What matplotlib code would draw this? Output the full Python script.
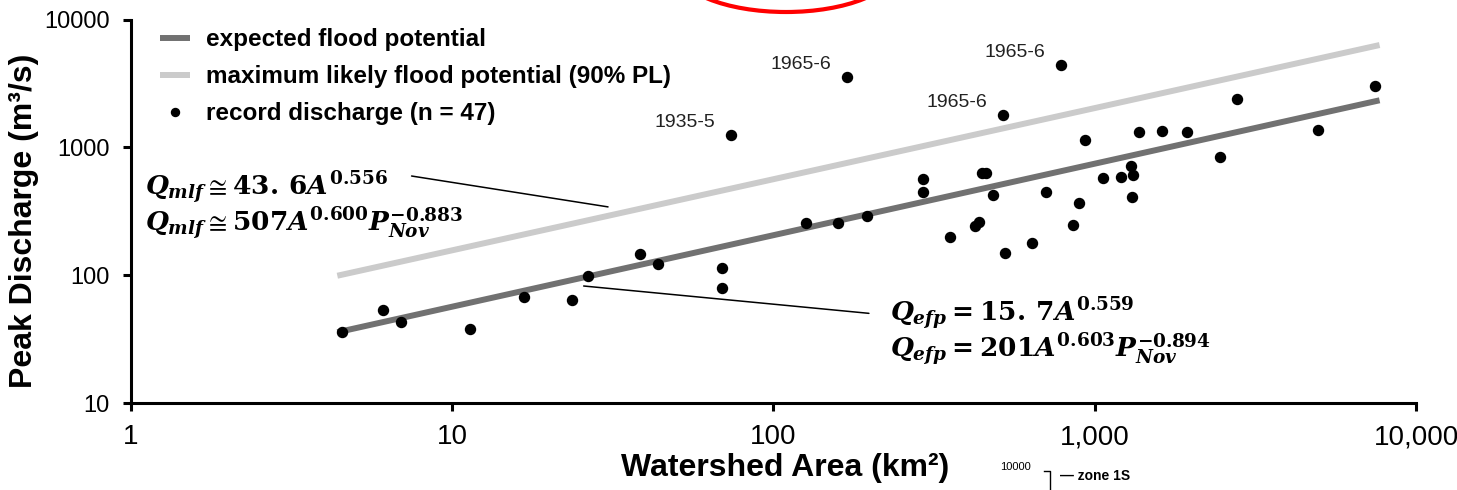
import matplotlib
matplotlib.use("Agg")
import matplotlib.pyplot as plt
import numpy as np
from matplotlib import ticker
from matplotlib.patches import Ellipse
from matplotlib.lines import Line2D

# record discharge per watershed (km2, m3/s)
area = [4.54, 6.09, 6.94, 11.4, 16.8, 23.6, 26.6, 38.5, 43.9, 69.2,
        69.2, 73.8, 126, 159, 169, 196, 292, 292, 354, 424,
        436, 445, 459, 481, 518, 527, 637, 708, 785, 857,
        893, 933, 1062, 1205, 1294, 1318, 1306, 1373, 1619, 1936,
        2456, 2770, 4958, 7447]
discharge = [36.3, 53.6, 43.3, 37.9, 67.5, 64.6, 99, 148, 123, 114,
             79.3, 1253, 257, 257, 3556, 291, 567, 449, 199, 245,
             263, 628, 628, 423, 1795, 149, 178, 447, 4416, 248,
             370, 1138, 574, 591, 716, 609, 410, 1314, 1353, 1322,
             838, 2382, 1362, 3028]

# flagged flood events
event_area = [73.8, 169, 518, 785]
event_q = [1253, 3556, 1795, 4416]
event_names = ["1935-5", "1965-6", "1965-6", "1965-6"]

# regression: Q = c * A^b
efp_coef, efp_exp = 15.7, 0.559
mlf_coef, mlf_exp = 43.6, 0.556
efp_p = (201, 0.603, -0.894)
mlf_p = (507, 0.600, -0.883)
fit_range = [4.4, 7700]

plt.rcParams["font.family"] = "Liberation Sans"
plt.rcParams["mathtext.fontset"] = "custom"
plt.rcParams["mathtext.rm"] = "DejaVu Serif:bold"
plt.rcParams["mathtext.it"] = "DejaVu Serif:italic:bold"
plt.rcParams["mathtext.bf"] = "DejaVu Serif:bold"
plt.rcParams["mathtext.fallback"] = "stix"

fig = plt.figure(figsize=(14.57, 4.90), dpi=100)
ax = fig.add_axes([0.0896, 0.1769, 0.9719 - 0.0896, 0.9602 - 0.1769])

A = np.array(fit_range)
ax.plot(A, efp_coef * A ** efp_exp, color="#717171", lw=4.3,
        solid_capstyle="butt", label="expected flood potential", zorder=2)
ax.plot(A, mlf_coef * A ** mlf_exp, color="#cbcbcb", lw=4.3,
        solid_capstyle="butt", label="maximum likely flood potential (90% PL)", zorder=2)
ax.plot(area, discharge, "o", color="black", ms=7.2, ls="none",
        label="record discharge (n = 47)", zorder=3)

for xa, yq, name in zip(event_area, event_q, event_names):
    ax.annotate(name, (xa, yq), xytext=(-11, 9), textcoords="offset points",
                ha="right", va="center", fontsize=14, color="#222222")

ax.set_xscale("log")
ax.set_yscale("log")
ax.set_xlim(1, 10000)
ax.set_ylim(10, 10000)
ax.xaxis.set_major_locator(ticker.LogLocator(base=10, numticks=10))
ax.yaxis.set_major_locator(ticker.LogLocator(base=10, numticks=10))
ax.xaxis.set_minor_locator(ticker.NullLocator())
ax.yaxis.set_minor_locator(ticker.NullLocator())
ax.xaxis.set_major_formatter(ticker.FuncFormatter(lambda v, p: f"{v:,.0f}"))
ax.yaxis.set_major_formatter(ticker.FuncFormatter(lambda v, p: f"{v:.0f}"))

for s in ("top", "right"):
    ax.spines[s].set_visible(False)
for s in ("left", "bottom"):
    ax.spines[s].set_linewidth(2.2)
ax.tick_params(axis="both", width=2.2, length=6, color="black")
ax.tick_params(axis="y", labelsize=17, pad=9)
ax.tick_params(axis="x", labelsize=20, pad=9)

ax.set_xlabel("Watershed Area (km²)", fontsize=23, fontweight="bold")
ax.set_ylabel("Peak Discharge (m³/s)", fontsize=23, fontweight="bold")
ax.xaxis.set_label_coords(0.509, -0.13)
ax.yaxis.set_label_coords(-0.071, 0.475)

leg = ax.legend(loc="upper left", bbox_to_anchor=(0.015, 1.003), frameon=False,
                prop={"weight": "bold", "size": 17.5}, handlelength=1.25,
                handletextpad=0.65, labelspacing=0.58, borderaxespad=0,
                markerscale=0.8)

def num(v):
    return f"{v:.1f}".replace(".", r".\,")

eq_kw = dict(transform=ax.transAxes, fontsize=19, va="baseline", ha="left")
ax.text(0.0112, 0.540, rf"$Q_{{mlf}} \cong {num(mlf_coef)}A^{{{mlf_exp:.3f}}}$", **eq_kw)
ax.text(0.0112, 0.4466,
        rf"$Q_{{mlf}} \cong {mlf_p[0]}A^{{{mlf_p[1]:.3f}}}P_{{Nov}}^{{{mlf_p[2]:.3f}}}$", **eq_kw)
ax.text(0.591, 0.212, rf"$Q_{{efp}} = {num(efp_coef)}A^{{{efp_exp:.3f}}}$", **eq_kw)
ax.text(0.591, 0.118,
        rf"$Q_{{efp}} = {efp_p[0]}A^{{{efp_p[1]:.3f}}}P_{{Nov}}^{{{efp_p[2]:.3f}}}$", **eq_kw)

# leader lines from the equations to their fit lines
lead = dict(arrowstyle="-", color="black", lw=1.1, shrinkA=0, shrinkB=0)
ax.annotate("", xy=(30.6, 343), xytext=(7.49, 598), arrowprops=lead)
ax.annotate("", xy=(25.7, 82.6), xytext=(198.4, 50.5), arrowprops=lead)

# red highlight ring cut off at the top edge
W, H = 1457, 490
fig.add_artist(Ellipse((786 / W, 1 + 33 / H), 220 / W, 90 / H,
                       transform=fig.transFigure, fill=False,
                       edgecolor="#ff0000", lw=3, clip_on=False))

# corner of the neighbouring panel
fig.text(1000 / W, 1 - 467 / H, "10000", fontsize=8, va="center")
fig.add_artist(Line2D([1044 / W, 1050 / W, 1050 / W],
                      [1 - 471 / H, 1 - 471 / H, 0],
                      transform=fig.transFigure, color="black", lw=1))
fig.text(1060 / W, 1 - 476 / H, "\u2014 zone 1S", fontsize=10,
         fontweight="bold", va="center")

fig.savefig("out.png", dpi=100)
